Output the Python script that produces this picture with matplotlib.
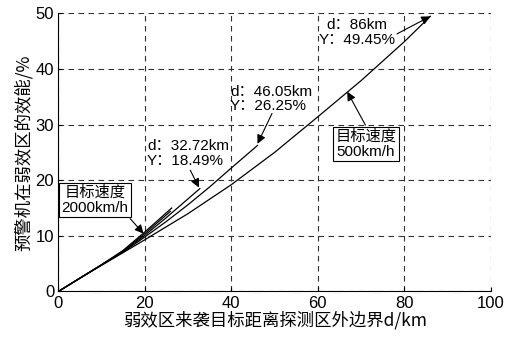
import matplotlib.pyplot as plt

plt.rcParams['font.family'] = ['Liberation Sans', 'Noto Sans CJK SC']

# 弱效区效能曲线（不同目标速度）
d_500 = [0, 5, 10, 15, 20, 30, 40, 50, 60, 70, 80, 86]
y_500 = [0, 2.4, 4.7, 7.0, 9.3, 14.0, 19.2, 25.0, 31.4, 37.9, 44.9, 49.45]

d_800 = [0, 5, 10, 15, 20, 25, 30, 35, 40, 46.05]
y_800 = [0, 2.4, 4.8, 7.1, 9.8, 12.6, 15.6, 18.8, 22.2, 26.25]

d_1000 = [0, 5, 10, 15, 20, 25, 32.72]
y_1000 = [0, 2.4, 4.8, 7.2, 10.1, 13.3, 18.49]

d_1500 = [0, 5, 10, 15, 20, 25.9]
y_1500 = [0, 2.4, 4.8, 7.3, 10.4, 14.4]

d_2000 = [0, 5, 10, 15, 20, 26.2]
y_2000 = [0, 2.4, 4.8, 7.4, 10.7, 15.0]

curves = [(d_500, y_500), (d_800, y_800), (d_1000, y_1000),
          (d_1500, y_1500), (d_2000, y_2000)]

fig = plt.figure(figsize=(5.05, 3.38), dpi=100)
ax = fig.add_axes([0.1155, 0.1376, 0.8565, 0.8231])

for d, y in curves:
    ax.plot(d, y, color='black', lw=0.9)

ax.set_xlim(0, 100)
ax.set_ylim(0, 50)
ax.set_xticks([0, 20, 40, 60, 80, 100])
ax.set_yticks([0, 10, 20, 30, 40, 50])
ax.tick_params(direction='in', length=3, labelsize=12, pad=3)
ax.grid(True, color='#333333', linestyle=(0, (5, 4)), lw=0.8)
ax.spines['top'].set_visible(False)
ax.spines['right'].set_visible(False)

ax.set_xlabel('弱效区来袭目标距离探测区外边界d/km', fontsize=12.5,
              family=['Noto Sans CJK SC'], labelpad=0)
ax.set_ylabel('预警机在弱效区的效能/%', fontsize=12.5,
              family=['Noto Sans CJK SC'], labelpad=2)

arrow = dict(arrowstyle='-|>', mutation_scale=13, lw=0.8, color='black',
             shrinkA=0, shrinkB=0)

# 曲线终点标注
ax.annotate('', xy=(d_500[-1], y_500[-1]), xytext=(78.3, 46.3), arrowprops=arrow)
ax.text(69.1, 46.5, f'd：{d_500[-1]:g}km\nY：{y_500[-1]:.2f}%', fontsize=11,
        ha='center', va='center', linespacing=1.05)

ax.annotate('', xy=(d_800[-1], y_800[-1] + 0.3), xytext=(49.4, 32.0), arrowprops=arrow)
ax.text(39.7, 34.6, f'd：{d_800[-1]:.2f}km\nY：{y_800[-1]:.2f}%', fontsize=11,
        ha='left', va='center', linespacing=1.05)

ax.annotate('', xy=(d_1000[-1] - 0.2, y_1000[-1] + 0.2), xytext=(30.5, 21.8), arrowprops=arrow)
ax.text(20.5, 24.8, f'd：{d_1000[-1]:.2f}km\nY：{y_1000[-1]:.2f}%', fontsize=11,
        ha='left', va='center', linespacing=1.05)

# 目标速度说明框
box = dict(boxstyle='square,pad=0.15', fc='white', ec='black', lw=0.8)
ax.annotate('', xy=(19.7, 10.4), xytext=(16.6, 13.1), arrowprops=arrow)
ax.text(8.5, 16.4, '目标速度\n2000km/h', fontsize=11, ha='center', va='center',
        linespacing=1.1, bbox=box)

ax.annotate('', xy=(66.8, 35.9), xytext=(71.0, 29.9), arrowprops=arrow)
ax.text(71.1, 26.5, '目标速度\n500km/h', fontsize=11, ha='center', va='center',
        linespacing=1.1, bbox=box)

fig.savefig('out.png', dpi=100)
